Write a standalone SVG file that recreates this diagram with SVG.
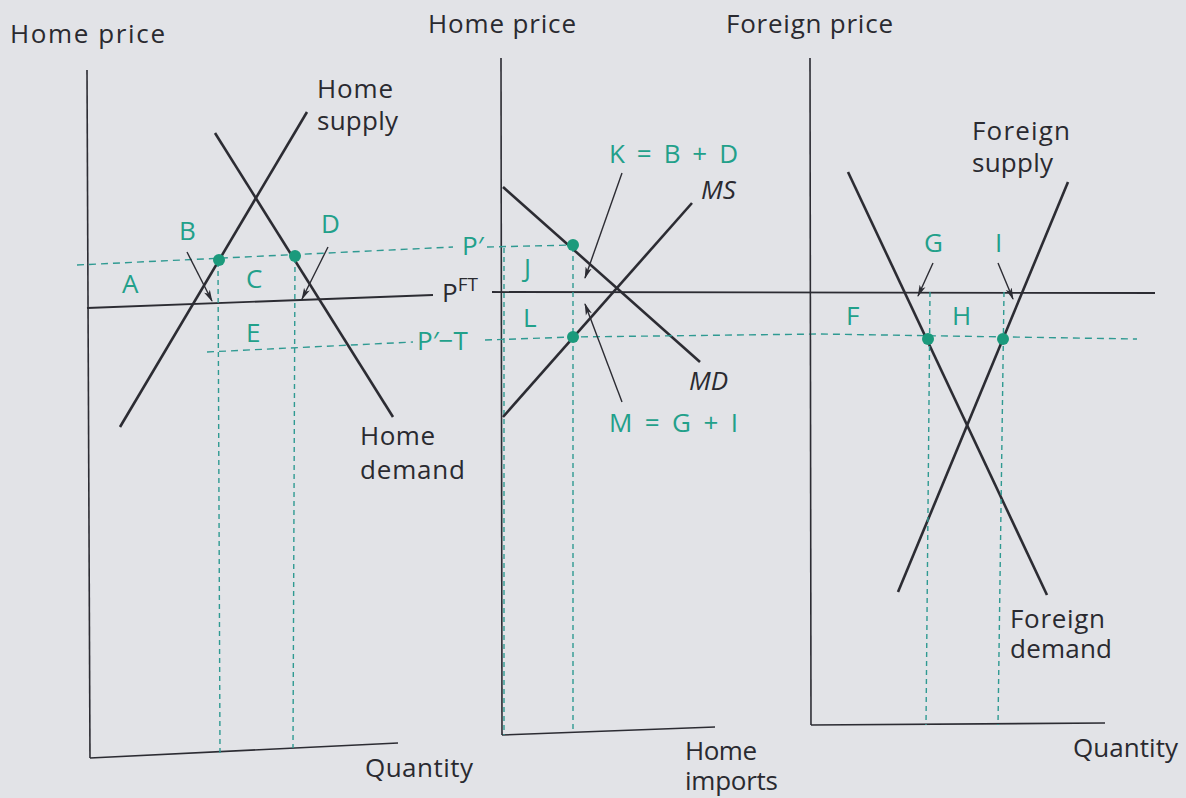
<svg xmlns="http://www.w3.org/2000/svg" width="1186" height="798" viewBox="0 0 1186 798">
<defs>
<style>
.bg{fill:#e2e3e7}
.ax{stroke:#2c2c33;stroke-width:1.6;fill:none}
.cv{stroke:#2c2c33;stroke-width:2.6;fill:none;stroke-linecap:butt}
.pl{stroke:#2c2c33;stroke-width:1.8;fill:none}
.ds{stroke:#2f9a92;stroke-width:1.4;fill:none;stroke-dasharray:7 5}
.dv{stroke:#2f9a92;stroke-width:1.4;fill:none;stroke-dasharray:5 4}
.ar{stroke:#2c2c33;stroke-width:1.4;fill:none;marker-end:url(#ah)}
.dot{fill:#1b9a7c}
.t{font-family:"Open Sans","DejaVu Sans",sans-serif;font-size:26px;fill:#2a2a30}
.g{font-family:"Open Sans","DejaVu Sans",sans-serif;font-size:26px;fill:#22a08a}
.i{font-style:italic}
</style>
<marker id="ah" viewBox="0 0 12 8" refX="11" refY="4" markerWidth="12" markerHeight="8" markerUnits="userSpaceOnUse" orient="auto">
<path d="M0,0.8 L12,4 L0,7.2 L3,4 Z" fill="#2c2c33"/>
</marker>
</defs>
<rect class="bg" x="0" y="0" width="1186" height="798"/>

<g id="connectors">
<!-- left panel -->
<g id="left-axes">
<line class="ax" x1="87" y1="70" x2="90" y2="758"/>
<line class="ax" x1="90" y1="758" x2="398" y2="743"/>
</g>
<line id="pft-left" class="pl" x1="87" y1="308" x2="433" y2="295"/>
<line id="home-supply-line" class="cv" x1="120" y1="427" x2="307" y2="112"/>
<line id="home-demand-line" class="cv" x1="215" y1="133" x2="393" y2="417"/>
<line class="ds" x1="77" y1="265" x2="453" y2="247"/>
<line class="ds" x1="207" y1="352" x2="413" y2="342"/>
<line class="dv" x1="218" y1="262" x2="220" y2="753"/>
<line class="dv" x1="295" y1="258" x2="293" y2="748"/>
<line class="ar" x1="187" y1="252" x2="212" y2="301"/>
<line class="ar" x1="328" y1="247" x2="302" y2="299"/>

<!-- middle panel -->
<g id="mid-axes">
<line class="ax" x1="501" y1="58" x2="502" y2="735"/>
<line class="ax" x1="502" y1="735" x2="715" y2="727"/>
</g>
<line class="dv" x1="504" y1="248" x2="504" y2="735"/>
<line id="pft-main" class="pl" x1="492" y1="292" x2="1155" y2="293"/>
<line id="md-line" class="cv" x1="503" y1="187" x2="700" y2="362"/>
<line id="ms-line" class="cv" x1="503" y1="417" x2="692" y2="203"/>
<line class="ds" x1="487" y1="247" x2="573" y2="245"/>
<polyline class="ds" points="485,340 573,337 820,334 1137,339"/>
<line class="dv" x1="573" y1="247" x2="573" y2="730"/>
<line class="ar" x1="622" y1="173" x2="585" y2="278"/>
<line class="ar" x1="622" y1="402" x2="585" y2="304"/>

<!-- right panel -->
<g id="right-axes">
<line class="ax" x1="810" y1="58" x2="811" y2="725"/>
<line class="ax" x1="811" y1="725" x2="1105" y2="723"/>
</g>
<line id="foreign-demand-line" class="cv" x1="848" y1="172" x2="1047" y2="595"/>
<line id="foreign-supply-line" class="cv" x1="898" y1="592" x2="1068" y2="182"/>
<line class="dv" x1="930" y1="292" x2="926" y2="725"/>
<line class="dv" x1="1004" y1="292" x2="998" y2="725"/>
<line class="ar" x1="933" y1="263" x2="918" y2="296"/>
<line class="ar" x1="998" y1="263" x2="1013" y2="299"/>
</g>

<g id="points">
<circle class="dot" cx="219" cy="260" r="6"/>
<circle class="dot" cx="295" cy="256" r="6"/>
<circle class="dot" cx="573" cy="245" r="6"/>
<circle class="dot" cx="573" cy="337" r="6"/>
<circle class="dot" cx="928" cy="339" r="6"/>
<circle class="dot" cx="1003" cy="339" r="6"/>
</g>

<g id="labels-left">
<text class="t" x="10" y="43" textLength="155">Home price</text>
<text class="t" x="317" y="98" textLength="76">Home</text>
<text class="t" x="317" y="130" textLength="81">supply</text>
<text class="t" x="360" y="445" textLength="75">Home</text>
<text class="t" x="360" y="479" textLength="105">demand</text>
<text class="t" x="365" y="777" textLength="108">Quantity</text>
<text class="g" x="122" y="293">A</text>
<text class="g" x="179" y="240">B</text>
<text class="g" x="246" y="288">C</text>
<text class="g" x="321" y="233">D</text>
<text class="g" x="246" y="342">E</text>
<text class="g" x="462" y="255">P′</text>
<text class="t" x="442" y="302">P<tspan font-size="19" dy="-11">FT</tspan></text>
<text class="g" x="417" y="350">P′−T</text>
</g>

<g id="labels-middle">
<text class="t" x="428" y="33" textLength="148">Home price</text>
<text class="g" x="609" y="163" textLength="129">K = B + D</text>
<text class="t i" x="701" y="199">MS</text>
<text class="g" x="524" y="277">J</text>
<text class="g" x="523" y="327">L</text>
<text class="t i" x="689" y="390">MD</text>
<text class="g" x="609" y="432" textLength="129">M = G + I</text>
<text class="t" x="685" y="760" textLength="72">Home</text>
<text class="t" x="685" y="790" textLength="93">imports</text>
</g>

<g id="labels-right">
<text class="t" x="726" y="33" textLength="167">Foreign price</text>
<text class="t" x="972" y="140" textLength="98">Foreign</text>
<text class="t" x="972" y="172" textLength="81">supply</text>
<text class="g" x="924" y="252">G</text>
<text class="g" x="995" y="252">I</text>
<text class="g" x="846" y="325">F</text>
<text class="g" x="952" y="325">H</text>
<text class="t" x="1010" y="628" textLength="95">Foreign</text>
<text class="t" x="1010" y="658" textLength="102">demand</text>
<text class="t" x="1073" y="757" textLength="105">Quantity</text>
</g>
</svg>
